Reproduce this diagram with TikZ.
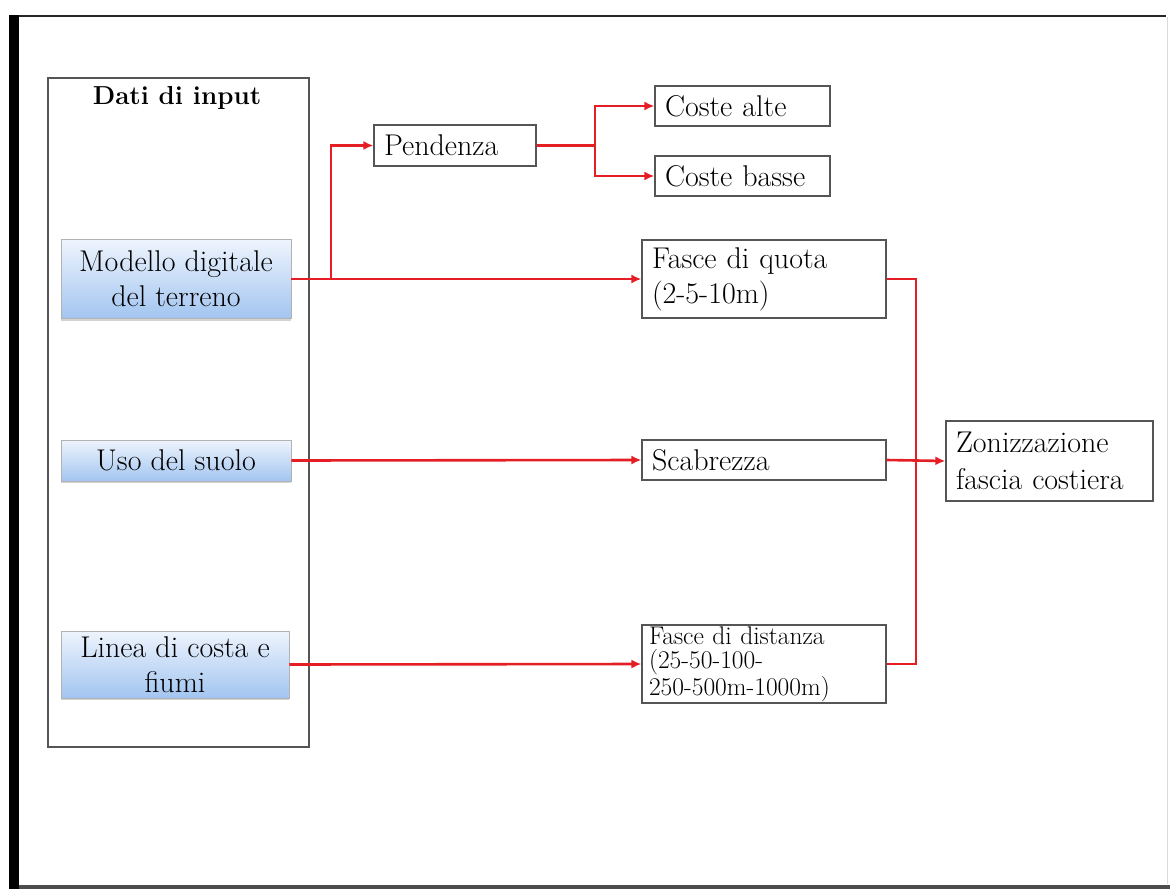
\documentclass[tikz,border=0pt]{standalone}
\usepackage{tikz}
\usetikzlibrary{arrows.meta,shadows}
\definecolor{linkred}{RGB}{228,30,36}
\definecolor{boxgray}{RGB}{85,85,85}
\definecolor{bluetop}{RGB}{238,244,253}
\definecolor{bluebot}{RGB}{162,197,240}

\begin{document}
\begin{tikzpicture}[x=1pt,y=-1pt]
	\tikzstyle{every node}+=[font=\fontsize{30}{35}\selectfont]
	\tikzstyle{plainbox}=[draw=boxgray, line width=1.2pt, inner xsep=10pt, inner ysep=0pt, align=left]
	\tikzstyle{inputbox}=[draw=boxgray!45, line width=0.8pt, inner sep=0pt, align=center, top color=bluetop, bottom color=bluebot, drop shadow={opacity=0.35, shadow xshift=0pt, shadow yshift=-2pt}]
	\tikzstyle{wire}=[draw=linkred, line width=2.6pt]
	\tikzstyle{link}=[wire, -{Latex[length=10pt,width=9pt]}]
	\useasboundingbox (0,0) rectangle (1170,889);
	% page frame
	\fill [black] (9,15) rectangle (19,889);
	\draw [black!85, line width=2pt] (19,16) -- (1166,16);
	\draw [black!15, line width=0.8pt] (1167,17) -- (1167,884);
	\draw [black!70, line width=4pt] (19,887) -- (1170,887);
	% input column
	\node [draw=boxgray, line width=1.2pt, minimum width=261, minimum height=669] (inputs) at (178.5,412.5) {};
	\node [font=\fontsize{26}{30}\selectfont\bfseries] (title) at (177,98) {Dati di input};
	\node [inputbox, minimum width=230, minimum height=79] (dtm) at (176,279) {Modello digitale\\del terreno};
	\node [inputbox, minimum width=230, minimum height=41] (suolo) at (176,460.5) {Uso del suolo};
	\node [inputbox, minimum width=228, minimum height=67] (costa) at (175,664.5) {Linea di costa e\\fiumi};
	% derived layers
	\node [plainbox, text width=142, minimum height=41] (pendenza) at (455,145.5) {Pendenza};
	\node [plainbox, text width=155, minimum height=40] (alte) at (742.5,106) {Coste alte};
	\node [plainbox, text width=155, minimum height=40] (basse) at (742.5,176) {Coste basse};
	\node [plainbox, text width=224, minimum height=78] (quota) at (764,279) {Fasce di quota\\(2-5-10m)};
	\node [plainbox, text width=224, minimum height=40] (scabrezza) at (764,460) {Scabrezza};
	\node [plainbox, text width=230, inner xsep=7pt, minimum height=78, font=\fontsize{25.5}{24.5}\selectfont] (distanza) at (764,664) {Fasce di distanza\\(25-50-100-\\250-500m-1000m)};
	\node [plainbox, text width=187, minimum height=80, font=\fontsize{30}{37}\selectfont] (zona) at (1049.5,461) {Zonizzazione\\fascia costiera};
	% connectors
	\coordinate (fork1) at (331,279);
	\coordinate (fork2) at (595,145.5);
	\coordinate (bus) at (916,279);
	\draw [link] (dtm.east) -- (quota.west);
	\draw [link] (fork1) |- (pendenza.west);
	\draw [wire] (pendenza.east) -- (fork2);
	\draw [link] (fork2) |- (alte.west);
	\draw [link] (fork2) |- (basse.west);
	\draw [link] (suolo.east) -- (scabrezza.west);
	\draw [link] (costa.east) -- (distanza.west);
	\draw [wire] (quota.east) -- (bus) |- (distanza.east);
	\draw [link] (scabrezza.east) -- (zona.west);
\end{tikzpicture}
\end{document}
